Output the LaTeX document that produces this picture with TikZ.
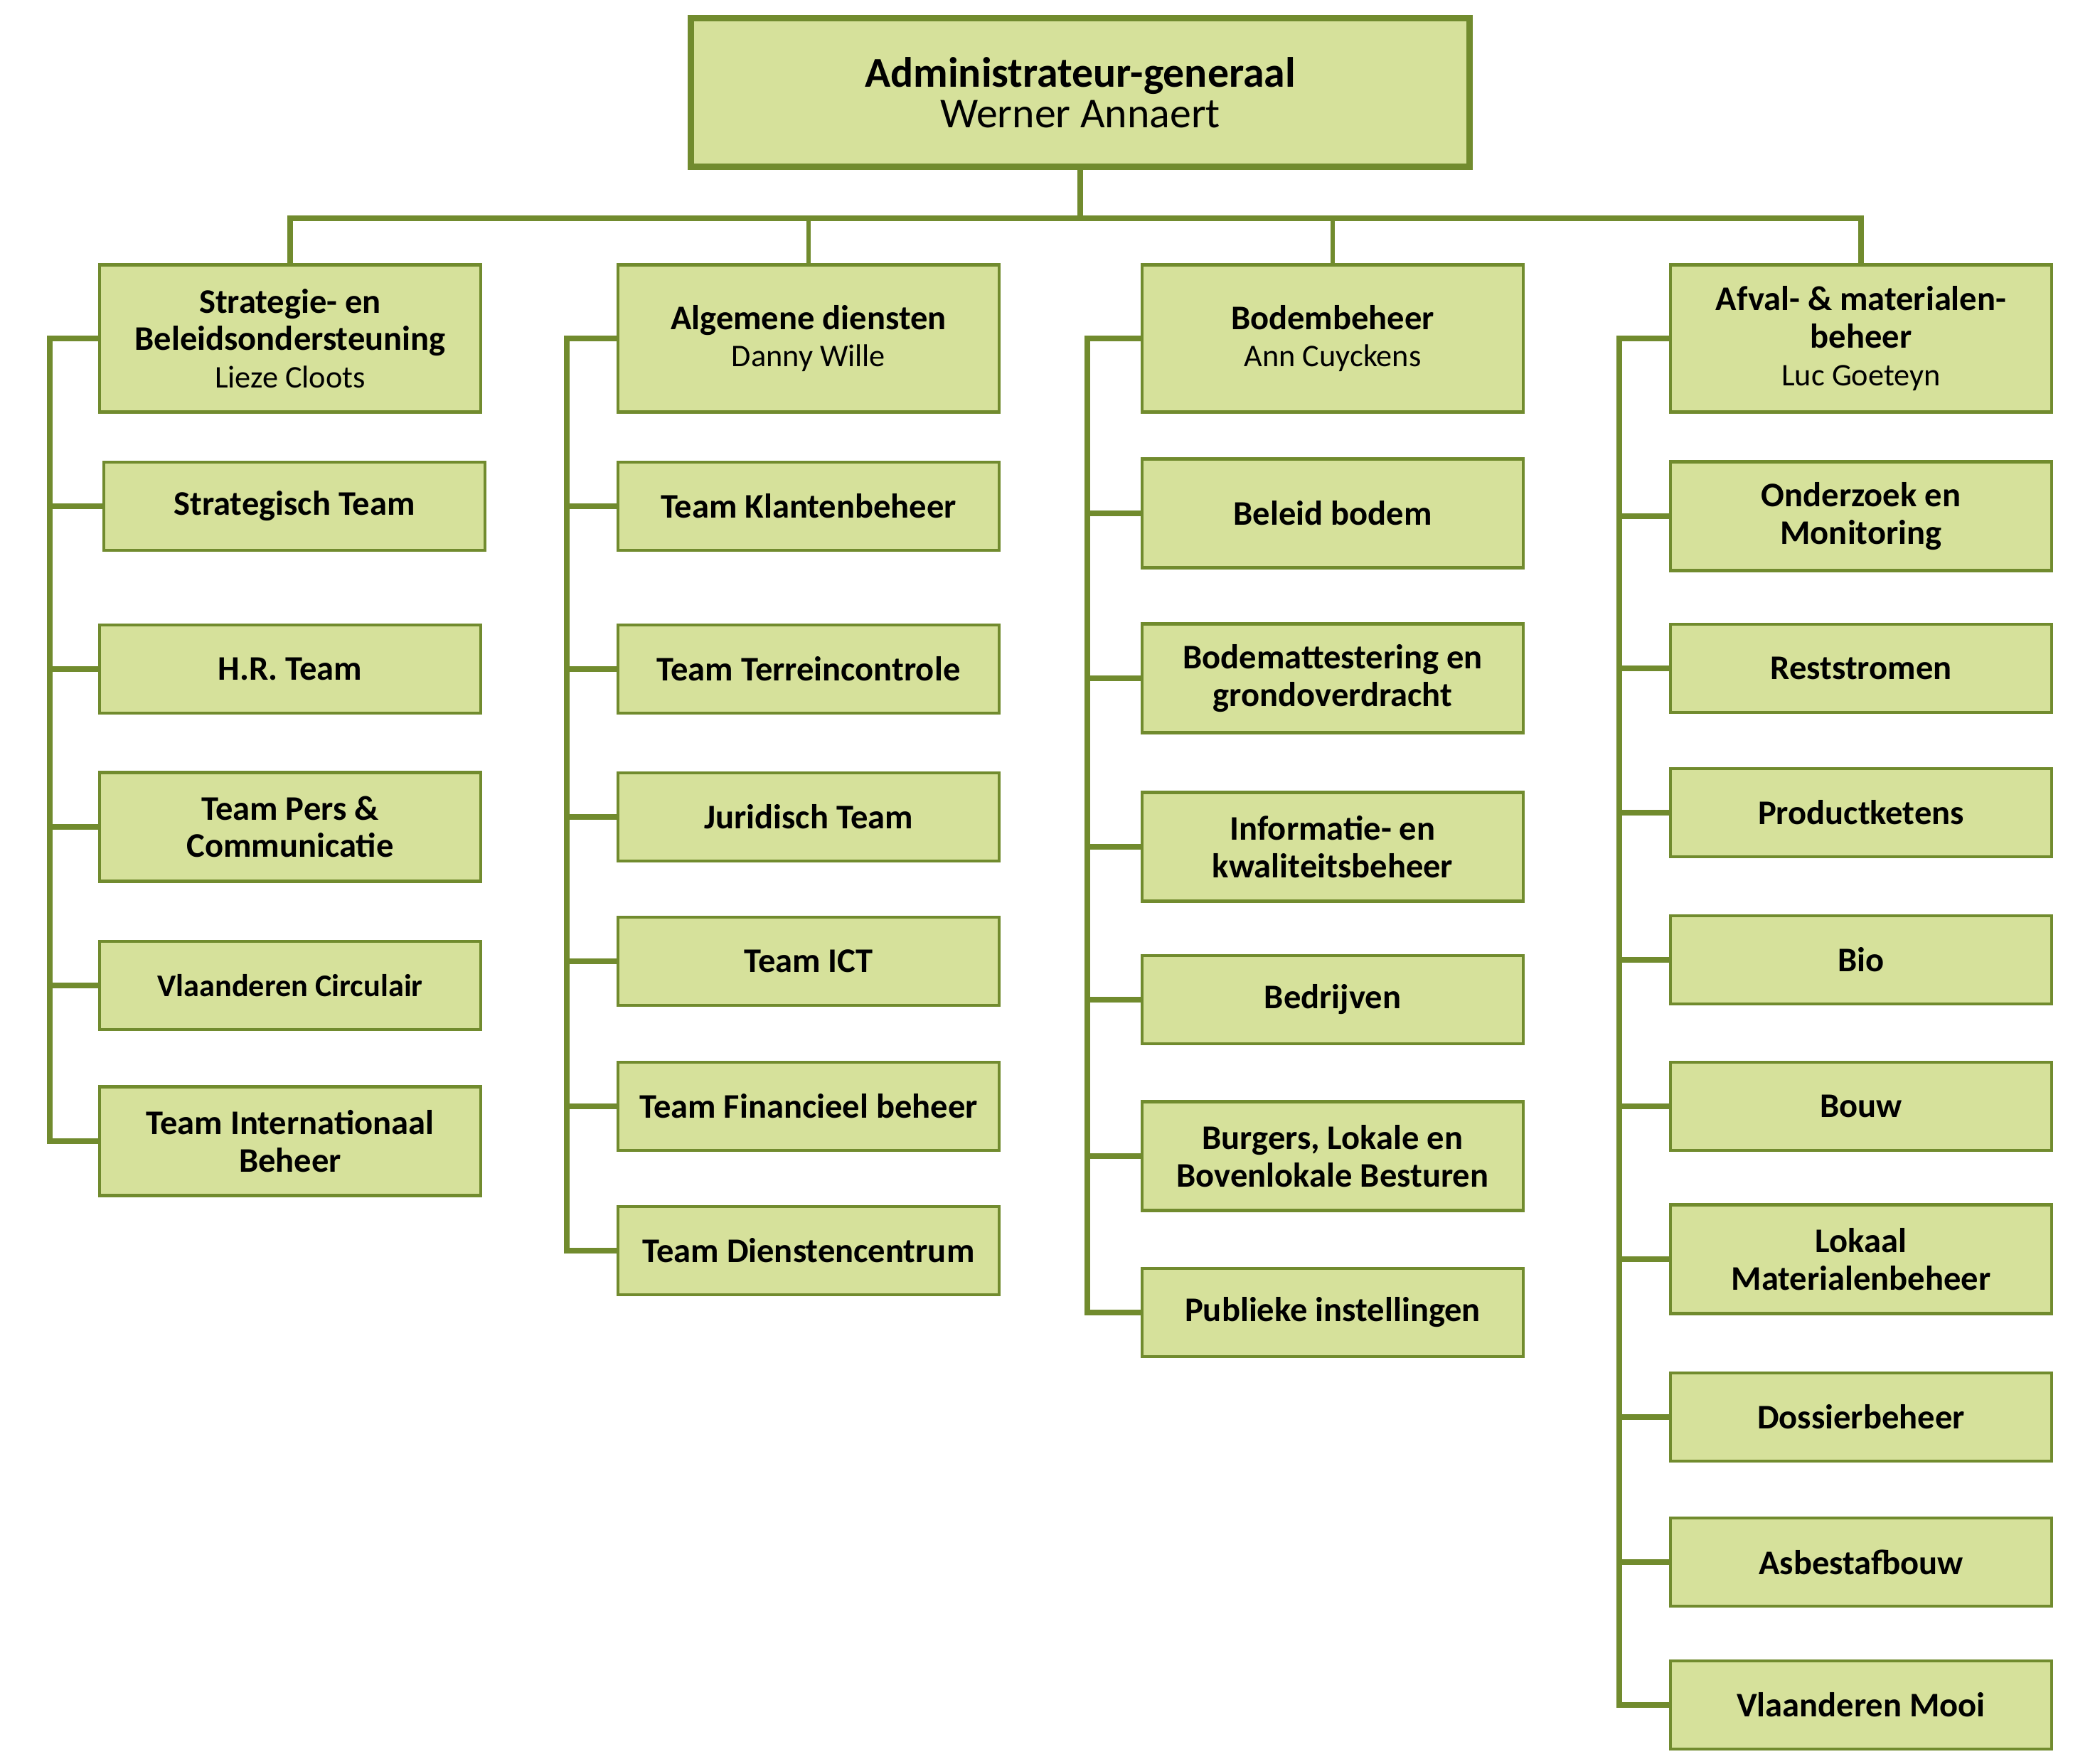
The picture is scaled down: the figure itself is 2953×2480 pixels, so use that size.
\documentclass[tikz,border=0pt]{standalone}
\usepackage{fontspec}
\setmainfont{Carlito}
\usepackage{xcolor}
\usetikzlibrary{positioning}
\definecolor{ovamlijn}{RGB}{113,139,46}
\definecolor{ovamvul}{RGB}{214,225,155}
\newcommand{\naam}[1]{{\fontsize{12.6}{15}\selectfont\mdseries #1}}
\tikzset{
	dienst/.style={draw=ovamlijn,fill=ovamvul,line width=1.2pt,minimum width=5.35cm,minimum height=1.24cm,align=center,inner sep=2pt,font=\fontsize{13.8}{15}\selectfont\bfseries},
	dienst2/.style={dienst,minimum height=1.53cm},
	afdeling/.style={dienst,minimum height=2.07cm},
	tak/.style={draw=ovamlijn,line width=2.5pt,line join=miter}
}
\begin{document}
\begin{tikzpicture}[x=0.01cm,y=-0.01cm]
		\useasboundingbox (0,0) rectangle (2953,2480);
		%Top
			\path node[dienst,line width=2.6pt,minimum width=10.94cm,minimum height=2.09cm,font=\fontsize{17}{16.2}\selectfont\bfseries] (top) at (1519,130) {Administrateur-generaal\\{\mdseries Werner Annaert}};
		%Afdelingen
			\coordinate (bus) at (0,307);
			\path node[afdeling] (hA) at (408,476) {Strategie- en\\Beleidsondersteuning\\\naam{Lieze Cloots}};
			\path node[afdeling] (hB) at (1137,476) {Algemene diensten\\\naam{Danny Wille}};
			\path node[afdeling] (hC) at (1874,476) {Bodembeheer\\\naam{Ann Cuyckens}};
			\path node[afdeling] (hD) at (2617,476) {Afval- \& materialen-\\beheer\\\naam{Luc Goeteyn}};
			\draw[tak,line width=2.4pt] (top.south) -- (top.south |- bus);
			\draw[tak] (hA.north) -- (hA.north |- bus) -- (hD.north |- bus) -- (hD.north);
			\foreach \h in {hB,hC}
			{
				\draw[tak,line width=1.8pt] (\h.north) -- (\h.north |- bus);
			}
		%Teams A
			\coordinate (spA) at (70,0);
			\path node[dienst] (a1) at (414,712) {Strategisch Team};
			\foreach \n/\y/\s/\t in {a2/941/dienst/{H.R. Team},a3/1163/dienst2/{Team Pers \&\\Communicatie},a4/1386/dienst/{\fontsize{12.6}{14}\selectfont Vlaanderen Circulair},a5/1605/dienst2/{Team Internationaal\\Beheer}}
			{
				\path node[\s] (\n) at (408,\y) {\t};
			}
			\draw[tak] (hA.west) -- (hA.west -| spA) -- (a5.west -| spA) -- (a5.west);
			\foreach \n in {a1,a2,a3,a4}
			{
				\draw[tak] (\n.west) -- (\n.west -| spA);
			}
		%Teams B
			\coordinate (spB) at (797,0);
			\foreach \n/\y/\s/\t in {b1/712/dienst/{Team Klantenbeheer},b2/941/dienst/{Team Terreincontrole},b3/1149/dienst/{Juridisch Team},b4/1352/dienst/{Team ICT},b5/1556/dienst/{Team Financieel beheer},b6/1759/dienst/{Team Dienstencentrum}}
			{
				\path node[\s] (\n) at (1137,\y) {\t};
			}
			\draw[tak] (hB.west) -- (hB.west -| spB) -- (b6.west -| spB) -- (b6.west);
			\foreach \n in {b1,b2,b3,b4,b5}
			{
				\draw[tak] (\n.west) -- (\n.west -| spB);
			}
		%Teams C
			\coordinate (spC) at (1529,0);
			\foreach \n/\y/\s/\t in {c1/722/dienst2/{Beleid bodem},c2/954/dienst2/{Bodemattestering en\\grondoverdracht},c3/1191/dienst2/{Informatie- en\\kwaliteitsbeheer},c4/1406/dienst/{Bedrijven},c5/1626/dienst2/{Burgers, Lokale en\\Bovenlokale Besturen},c6/1846/dienst/{Publieke instellingen}}
			{
				\path node[\s] (\n) at (1874,\y) {\t};
			}
			\draw[tak] (hC.west) -- (hC.west -| spC) -- (c6.west -| spC) -- (c6.west);
			\foreach \n in {c1,c2,c3,c4,c5}
			{
				\draw[tak] (\n.west) -- (\n.west -| spC);
			}
		%Teams D
			\coordinate (spD) at (2277,0);
			\foreach \n/\y/\s/\t in {d1/726/dienst2/{Onderzoek en\\Monitoring},d2/940/dienst/{Reststromen},d3/1143/dienst/{Productketens},d4/1350/dienst/{Bio},d5/1556/dienst/{Bouw},d6/1771/dienst2/{Lokaal\\Materialenbeheer},d7/1993/dienst/{Dossierbeheer},d8/2197/dienst/{Asbestafbouw},d9/2398/dienst/{Vlaanderen Mooi}}
			{
				\path node[\s] (\n) at (2617,\y) {\t};
			}
			\draw[tak] (hD.west) -- (hD.west -| spD) -- (d9.west -| spD) -- (d9.west);
			\foreach \n in {d1,d2,d3,d4,d5,d6,d7,d8}
			{
				\draw[tak] (\n.west) -- (\n.west -| spD);
			}
	\end{tikzpicture}
\end{document}
